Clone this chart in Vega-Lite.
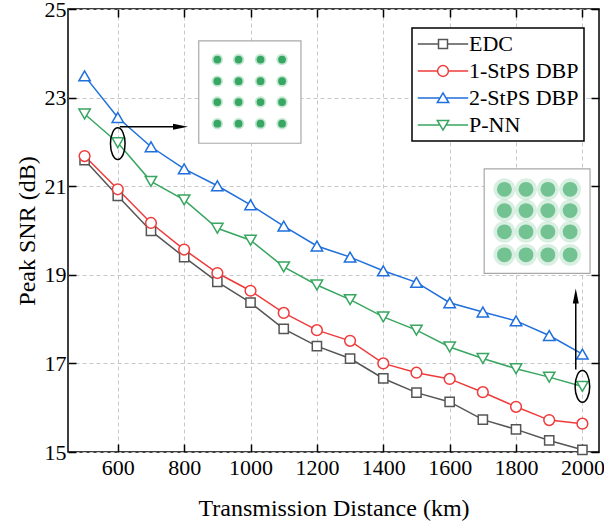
{
  "$schema": "https://vega.github.io/schema/vega-lite/v6.json",
  "width": 531,
  "height": 443,
  "autosize": {"type": "none"},
  "padding": {"left": 68, "top": 9, "right": 5, "bottom": 78},
  "background": "white",
  "config": {
    "font": "Liberation Serif",
    "view": {"stroke": "black", "strokeWidth": 1.5},
    "axis": {
      "domain": false,
      "tickColor": "black",
      "tickWidth": 1.5,
      "tickSize": -8,
      "labelFont": "Liberation Serif",
      "labelFontSize": 22,
      "labelFontWeight": "normal",
      "labelColor": "black",
      "titleFont": "Liberation Serif",
      "titleFontSize": 24,
      "titleFontWeight": "normal",
      "titleColor": "black",
      "gridColor": "#c8c8c8",
      "gridDash": [4, 3],
      "gridWidth": 1
    },
    "legend": {"labelFont": "Liberation Serif", "labelFontWeight": "normal", "strokeWidth": 1.5}
  },
  "datasets": {
    "series": [
      {"d": 500, "snr": 21.59, "method": "EDC"},
      {"d": 600, "snr": 20.78, "method": "EDC"},
      {"d": 700, "snr": 19.99, "method": "EDC"},
      {"d": 800, "snr": 19.40, "method": "EDC"},
      {"d": 900, "snr": 18.84, "method": "EDC"},
      {"d": 1000, "snr": 18.37, "method": "EDC"},
      {"d": 1100, "snr": 17.78, "method": "EDC"},
      {"d": 1200, "snr": 17.39, "method": "EDC"},
      {"d": 1300, "snr": 17.11, "method": "EDC"},
      {"d": 1400, "snr": 16.66, "method": "EDC"},
      {"d": 1500, "snr": 16.34, "method": "EDC"},
      {"d": 1600, "snr": 16.13, "method": "EDC"},
      {"d": 1700, "snr": 15.73, "method": "EDC"},
      {"d": 1800, "snr": 15.51, "method": "EDC"},
      {"d": 1900, "snr": 15.26, "method": "EDC"},
      {"d": 2000, "snr": 15.05, "method": "EDC"},
      {"d": 500, "snr": 21.68, "method": "1-StPS DBP"},
      {"d": 600, "snr": 20.93, "method": "1-StPS DBP"},
      {"d": 700, "snr": 20.17, "method": "1-StPS DBP"},
      {"d": 800, "snr": 19.57, "method": "1-StPS DBP"},
      {"d": 900, "snr": 19.04, "method": "1-StPS DBP"},
      {"d": 1000, "snr": 18.64, "method": "1-StPS DBP"},
      {"d": 1100, "snr": 18.14, "method": "1-StPS DBP"},
      {"d": 1200, "snr": 17.75, "method": "1-StPS DBP"},
      {"d": 1300, "snr": 17.51, "method": "1-StPS DBP"},
      {"d": 1400, "snr": 17.00, "method": "1-StPS DBP"},
      {"d": 1500, "snr": 16.79, "method": "1-StPS DBP"},
      {"d": 1600, "snr": 16.65, "method": "1-StPS DBP"},
      {"d": 1700, "snr": 16.35, "method": "1-StPS DBP"},
      {"d": 1800, "snr": 16.02, "method": "1-StPS DBP"},
      {"d": 1900, "snr": 15.72, "method": "1-StPS DBP"},
      {"d": 2000, "snr": 15.64, "method": "1-StPS DBP"},
      {"d": 500, "snr": 23.49, "method": "2-StPS DBP"},
      {"d": 600, "snr": 22.55, "method": "2-StPS DBP"},
      {"d": 700, "snr": 21.89, "method": "2-StPS DBP"},
      {"d": 800, "snr": 21.39, "method": "2-StPS DBP"},
      {"d": 900, "snr": 21.01, "method": "2-StPS DBP"},
      {"d": 1000, "snr": 20.58, "method": "2-StPS DBP"},
      {"d": 1100, "snr": 20.10, "method": "2-StPS DBP"},
      {"d": 1200, "snr": 19.65, "method": "2-StPS DBP"},
      {"d": 1300, "snr": 19.40, "method": "2-StPS DBP"},
      {"d": 1400, "snr": 19.09, "method": "2-StPS DBP"},
      {"d": 1500, "snr": 18.83, "method": "2-StPS DBP"},
      {"d": 1600, "snr": 18.37, "method": "2-StPS DBP"},
      {"d": 1700, "snr": 18.16, "method": "2-StPS DBP"},
      {"d": 1800, "snr": 17.96, "method": "2-StPS DBP"},
      {"d": 1900, "snr": 17.63, "method": "2-StPS DBP"},
      {"d": 2000, "snr": 17.21, "method": "2-StPS DBP"},
      {"d": 500, "snr": 22.63, "method": "P-NN"},
      {"d": 600, "snr": 21.98, "method": "P-NN"},
      {"d": 700, "snr": 21.11, "method": "P-NN"},
      {"d": 800, "snr": 20.69, "method": "P-NN"},
      {"d": 900, "snr": 20.05, "method": "P-NN"},
      {"d": 1000, "snr": 19.78, "method": "P-NN"},
      {"d": 1100, "snr": 19.18, "method": "P-NN"},
      {"d": 1200, "snr": 18.77, "method": "P-NN"},
      {"d": 1300, "snr": 18.44, "method": "P-NN"},
      {"d": 1400, "snr": 18.05, "method": "P-NN"},
      {"d": 1500, "snr": 17.75, "method": "P-NN"},
      {"d": 1600, "snr": 17.37, "method": "P-NN"},
      {"d": 1700, "snr": 17.11, "method": "P-NN"},
      {"d": 1800, "snr": 16.88, "method": "P-NN"},
      {"d": 1900, "snr": 16.69, "method": "P-NN"},
      {"d": 2000, "snr": 16.48, "method": "P-NN"}
    ],
    "insets": [
      {"x1": 844, "x2": 1152, "y1": 21.97, "y2": 24.28},
      {"x1": 1704, "x2": 2023, "y1": 19.03, "y2": 21.39}
    ],
    "constellation": [
      {"cx": 900, "cy": 23.86, "inset": 1}, {"cx": 964, "cy": 23.86, "inset": 1}, {"cx": 1030, "cy": 23.86, "inset": 1}, {"cx": 1095, "cy": 23.86, "inset": 1},
      {"cx": 900, "cy": 23.37, "inset": 1}, {"cx": 964, "cy": 23.37, "inset": 1}, {"cx": 1030, "cy": 23.37, "inset": 1}, {"cx": 1095, "cy": 23.37, "inset": 1},
      {"cx": 900, "cy": 22.90, "inset": 1}, {"cx": 964, "cy": 22.90, "inset": 1}, {"cx": 1030, "cy": 22.90, "inset": 1}, {"cx": 1095, "cy": 22.90, "inset": 1},
      {"cx": 900, "cy": 22.41, "inset": 1}, {"cx": 964, "cy": 22.41, "inset": 1}, {"cx": 1030, "cy": 22.41, "inset": 1}, {"cx": 1095, "cy": 22.41, "inset": 1},
      {"cx": 1765, "cy": 20.93, "inset": 2}, {"cx": 1830, "cy": 20.93, "inset": 2}, {"cx": 1896, "cy": 20.93, "inset": 2}, {"cx": 1963, "cy": 20.93, "inset": 2},
      {"cx": 1765, "cy": 20.45, "inset": 2}, {"cx": 1830, "cy": 20.45, "inset": 2}, {"cx": 1896, "cy": 20.45, "inset": 2}, {"cx": 1963, "cy": 20.45, "inset": 2},
      {"cx": 1765, "cy": 19.97, "inset": 2}, {"cx": 1830, "cy": 19.97, "inset": 2}, {"cx": 1896, "cy": 19.97, "inset": 2}, {"cx": 1963, "cy": 19.97, "inset": 2},
      {"cx": 1765, "cy": 19.45, "inset": 2}, {"cx": 1830, "cy": 19.45, "inset": 2}, {"cx": 1896, "cy": 19.45, "inset": 2}, {"cx": 1963, "cy": 19.45, "inset": 2}
    ],
    "ellipses": [
      {"ex": 600, "ey": 21.96},
      {"ex": 2000, "ey": 16.48}
    ],
    "arrows": [
      {"ax1": 606, "ax2": 790, "ay1": 22.34, "ay2": 22.34},
      {"ax1": 1980, "ax2": 1980, "ay1": 16.86, "ay2": 18.55}
    ],
    "heads": [
      {"hx": 789, "hy": 22.34, "dir": "right"},
      {"hx": 1980, "hy": 18.52, "dir": "up"}
    ]
  },
  "layer": [
    {
      "data": {"name": "series"},
      "mark": {"type": "line", "strokeWidth": 1.5},
      "encoding": {
        "x": {"field": "d", "type": "quantitative", "scale": {"domain": [450, 2050], "nice": false, "zero": false},
          "axis": {"orient": "bottom", "values": [600, 800, 1000, 1200, 1400, 1600, 1800, 2000], "format": "d", "title": "Transmission Distance (km)", "grid": true, "labelPadding": 13, "titlePadding": 18}},
        "y": {"field": "snr", "type": "quantitative", "scale": {"domain": [15, 25], "nice": false, "zero": false},
          "axis": {"orient": "left", "values": [15, 17, 19, 21, 23, 25], "format": "d", "title": "Peak SNR (dB)", "grid": true, "labelPadding": 10, "titlePadding": 5}},
        "color": {"field": "method", "type": "nominal",
          "scale": {"domain": ["EDC", "1-StPS DBP", "2-StPS DBP", "P-NN"], "range": ["#555555", "#ef3b3b", "#1f6fdc", "#38a660"]},
          "legend": {"title": null, "orient": "none", "legendX": 344, "legendY": 19, "labelFontSize": 22, "labelColor": "black", "symbolSize": 144, "symbolStrokeWidth": 1.5, "symbolOffset": 15, "labelOffset": 15, "rowPadding": 5, "padding": 5, "strokeColor": "black", "fillColor": "white"}}
      }
    },
    {
      "data": {"name": "series"},
      "transform": [{"filter": "datum.method == 'EDC'"}],
      "mark": {"type": "point", "filled": true, "fill": "white", "strokeWidth": 1.5, "opacity": 1, "shape": "square", "size": 85},
      "encoding": {
        "x": {"field": "d", "type": "quantitative", "axis": null},
        "y": {"field": "snr", "type": "quantitative", "axis": null},
        "stroke": {"field": "method", "type": "nominal", "scale": {"domain": ["EDC", "1-StPS DBP", "2-StPS DBP", "P-NN"], "range": ["#555555", "#ef3b3b", "#1f6fdc", "#38a660"]}, "legend": null}
      }
    },
    {
      "data": {"name": "series"},
      "transform": [{"filter": "datum.method == '1-StPS DBP'"}],
      "mark": {"type": "point", "filled": true, "fill": "white", "strokeWidth": 1.5, "opacity": 1, "shape": "circle", "size": 115},
      "encoding": {
        "x": {"field": "d", "type": "quantitative", "axis": null},
        "y": {"field": "snr", "type": "quantitative", "axis": null},
        "stroke": {"field": "method", "type": "nominal", "scale": {"domain": ["EDC", "1-StPS DBP", "2-StPS DBP", "P-NN"], "range": ["#555555", "#ef3b3b", "#1f6fdc", "#38a660"]}, "legend": null}
      }
    },
    {
      "data": {"name": "series"},
      "transform": [{"filter": "datum.method == '2-StPS DBP'"}],
      "mark": {"type": "point", "filled": true, "fill": "white", "strokeWidth": 1.5, "opacity": 1, "shape": "triangle-up", "size": 130},
      "encoding": {
        "x": {"field": "d", "type": "quantitative", "axis": null},
        "y": {"field": "snr", "type": "quantitative", "axis": null},
        "stroke": {"field": "method", "type": "nominal", "scale": {"domain": ["EDC", "1-StPS DBP", "2-StPS DBP", "P-NN"], "range": ["#555555", "#ef3b3b", "#1f6fdc", "#38a660"]}, "legend": null}
      }
    },
    {
      "data": {"name": "series"},
      "transform": [{"filter": "datum.method == 'P-NN'"}],
      "mark": {"type": "point", "filled": true, "fill": "white", "strokeWidth": 1.5, "opacity": 1, "shape": "triangle-down", "size": 130},
      "encoding": {
        "x": {"field": "d", "type": "quantitative", "axis": null},
        "y": {"field": "snr", "type": "quantitative", "axis": null},
        "stroke": {"field": "method", "type": "nominal", "scale": {"domain": ["EDC", "1-StPS DBP", "2-StPS DBP", "P-NN"], "range": ["#555555", "#ef3b3b", "#1f6fdc", "#38a660"]}, "legend": null}
      }
    },
    {
      "data": {"name": "series"},
      "transform": [{"filter": "datum.d < 0"}],
      "mark": {"type": "point", "filled": true, "fill": "white", "strokeWidth": 1.5, "opacity": 1},
      "encoding": {
        "x": {"field": "d", "type": "quantitative", "axis": null},
        "y": {"field": "snr", "type": "quantitative", "axis": null},
        "shape": {"field": "method", "type": "nominal",
          "scale": {"domain": ["EDC", "1-StPS DBP", "2-StPS DBP", "P-NN"], "range": [
            "M-4.2,0L-0.75,0M0.75,0L4.2,0M-0.75,-0.75L0.75,-0.75L0.75,0.75L-0.75,0.75Z",
            "M-4.2,0L-0.9,0M0.9,0L4.2,0M-0.9,0A0.9,0.9 0 1,1 0.9,0A0.9,0.9 0 1,1 -0.9,0Z",
            "M-4.2,0L-0.5,0M0.5,0L4.2,0M0,-0.85L0.95,0.75L-0.95,0.75Z",
            "M-4.2,0L-0.5,0M0.5,0L4.2,0M0,0.85L0.95,-0.75L-0.95,-0.75Z"]},
          "legend": null}
      }
    },
    {
      "data": {"name": "insets"},
      "mark": {"type": "rect", "fill": "white", "stroke": "#a8a8a8", "strokeWidth": 1.2},
      "encoding": {
        "x": {"field": "x1", "type": "quantitative",
          "axis": {"orient": "top", "values": [600, 800, 1000, 1200, 1400, 1600, 1800, 2000], "labels": false, "title": null, "grid": false}},
        "x2": {"field": "x2"},
        "y": {"field": "y1", "type": "quantitative",
          "axis": {"orient": "right", "values": [15, 17, 19, 21, 23, 25], "labels": false, "title": null, "grid": false}},
        "y2": {"field": "y2"}
      }
    },
    {
      "data": {"name": "constellation"},
      "transform": [{"filter": "datum.inset == 1"}],
      "mark": {"type": "point", "filled": true, "color": "#3aae68", "opacity": 0.3, "size": 130},
      "encoding": {
        "x": {"field": "cx", "type": "quantitative", "axis": null},
        "y": {"field": "cy", "type": "quantitative", "axis": null}
      }
    },
    {
      "data": {"name": "constellation"},
      "transform": [{"filter": "datum.inset == 1"}],
      "mark": {"type": "point", "filled": true, "color": "#2fa35d", "opacity": 0.95, "size": 60},
      "encoding": {
        "x": {"field": "cx", "type": "quantitative", "axis": null},
        "y": {"field": "cy", "type": "quantitative", "axis": null}
      }
    },
    {
      "data": {"name": "constellation"},
      "transform": [{"filter": "datum.inset == 2"}],
      "mark": {"type": "point", "filled": true, "color": "#3aae68", "opacity": 0.2, "size": 480},
      "encoding": {
        "x": {"field": "cx", "type": "quantitative", "axis": null},
        "y": {"field": "cy", "type": "quantitative", "axis": null}
      }
    },
    {
      "data": {"name": "constellation"},
      "transform": [{"filter": "datum.inset == 2"}],
      "mark": {"type": "point", "filled": true, "color": "#2fa35d", "opacity": 0.6, "size": 220},
      "encoding": {
        "x": {"field": "cx", "type": "quantitative", "axis": null},
        "y": {"field": "cy", "type": "quantitative", "axis": null}
      }
    },
    {
      "data": {"name": "ellipses"},
      "mark": {"type": "point", "filled": false, "stroke": "black", "strokeWidth": 1.5, "opacity": 1, "size": 1005,
        "shape": "M-0.46,0A0.46,1 0 1,1 0.46,0A0.46,1 0 1,1 -0.46,0Z"},
      "encoding": {
        "x": {"field": "ex", "type": "quantitative", "axis": null},
        "y": {"field": "ey", "type": "quantitative", "axis": null}
      }
    },
    {
      "data": {"name": "arrows"},
      "mark": {"type": "rule", "color": "black", "strokeWidth": 1.5},
      "encoding": {
        "x": {"field": "ax1", "type": "quantitative", "axis": null},
        "x2": {"field": "ax2"},
        "y": {"field": "ay1", "type": "quantitative", "axis": null},
        "y2": {"field": "ay2"}
      }
    },
    {
      "data": {"name": "heads"},
      "transform": [{"filter": "datum.dir == 'right'"}],
      "mark": {"type": "point", "filled": true, "color": "black", "opacity": 1, "size": 225, "shape": "M1,0L-1,-0.4L-1,0.4Z"},
      "encoding": {
        "x": {"field": "hx", "type": "quantitative", "axis": null},
        "y": {"field": "hy", "type": "quantitative", "axis": null}
      }
    },
    {
      "data": {"name": "heads"},
      "transform": [{"filter": "datum.dir == 'up'"}],
      "mark": {"type": "point", "filled": true, "color": "black", "opacity": 1, "size": 225, "shape": "M0,-1L-0.4,1L0.4,1Z"},
      "encoding": {
        "x": {"field": "hx", "type": "quantitative", "axis": null},
        "y": {"field": "hy", "type": "quantitative", "axis": null}
      }
    }
  ],
  "resolve": {"axis": {"x": "independent", "y": "independent"}}
}
